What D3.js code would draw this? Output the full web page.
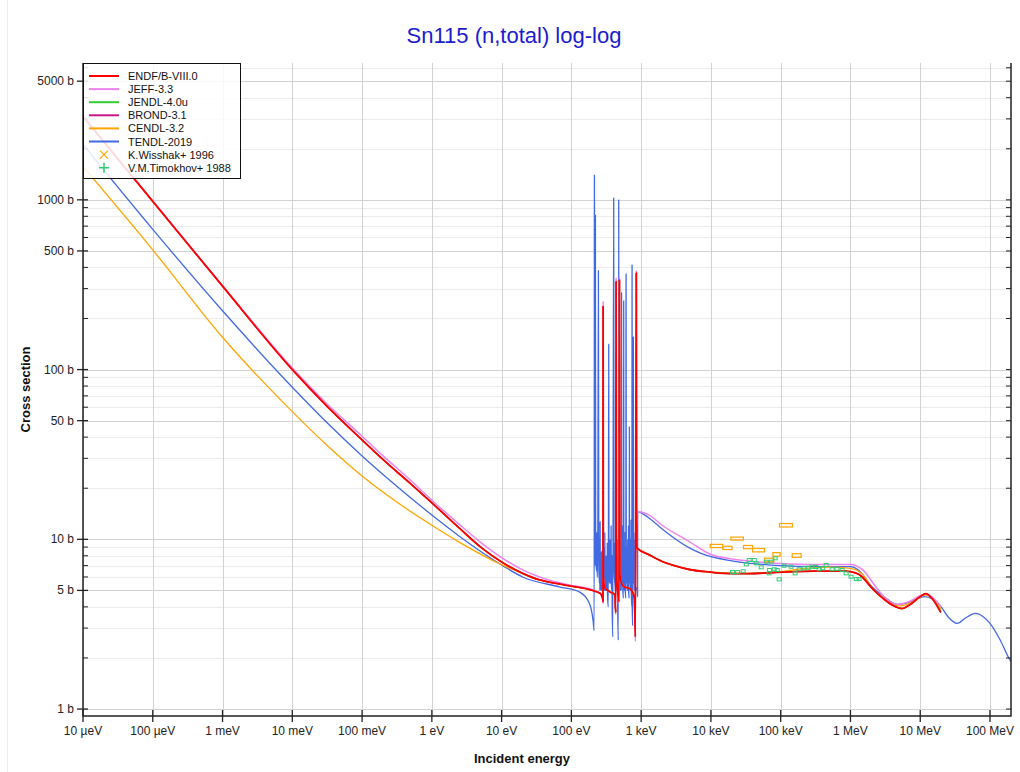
<!DOCTYPE html>
<html>
<head>
<meta charset="utf-8">
<script src="https://cdn.jsdelivr.net/npm/d3@7"></script>
<style>
  body { margin: 0; background: #fff; }
  text { font-family: "Liberation Sans", Arial, sans-serif; }
</style>
</head>
<body>
<div id="chart"></div>
<script>
// ---- data (energy in eV, cross section in barns) ----
const libNames = ['ENDF/B-VIII.0', 'JEFF-3.3', 'JENDL-4.0u', 'BROND-3.1', 'CENDL-3.2', 'TENDL-2019'];
const libColors = ['#ff0000', '#ee82ee', '#32cd32', '#c71585', '#ffa500', '#4169e1'];

const endf = [
  [1e-5, 3100], [1e-4, 980], [1e-3, 310], [1e-2, 100], [0.03, 62], [0.1, 38.5], [0.2, 29.5],
  [0.5, 21.2], [1, 16.4], [2.5, 11.6], [5, 9.0], [10, 7.35], [20, 6.3], [35, 5.76], [60, 5.5],
  [100, 5.3], [200, 5.0], [260, 4.8], [280, 4.5], [284, 4.3], [285, 235], [287, 6.0], [300, 5.2],
  [360, 4.9], [420, 4.7], [432, 3.7], [437, 330], [441, 6.5], [460, 5.0], [482, 4.3], [488, 337],
  [494, 6.2], [550, 5.3], [700, 5.1], [800, 4.5], [826, 2.66], [853, 371], [858, 10], [870, 8.9],
  [1310, 8.1], [2000, 7.4], [3000, 7.0], [4900, 6.64], [1e4, 6.4], [1.5e4, 6.3], [3e4, 6.27],
  [6e4, 6.33], [1.3e5, 6.43], [3e5, 6.5], [8.6e5, 6.5], [1e6, 6.45], [1.33e6, 6.2], [2.06e6, 5.13],
  [2.3e6, 4.9], [3e6, 4.45], [4.2e6, 4.05], [5.5e6, 3.91], [7e6, 4.1], [1e7, 4.6], [1.2e7, 4.79],
  [1.5e7, 4.45], [1.97e7, 3.71]
];

const jeff = [
  [1e-5, 3100], [1e-4, 985], [1e-3, 312], [1e-2, 102], [0.03, 64], [0.1, 40.5], [0.2, 31],
  [0.5, 22.2], [1, 17.0], [2.5, 12.2], [5, 9.6], [10, 7.8], [20, 6.6], [35, 6.0], [60, 5.6],
  [100, 5.35], [200, 5.05], [260, 4.8], [280, 4.5], [284, 4.2], [285, 250], [287, 6.0], [300, 5.2],
  [360, 4.9], [420, 4.7], [432, 3.6], [437, 345], [441, 6.5], [460, 5.0], [482, 4.2], [488, 350],
  [494, 6.2], [550, 5.3], [700, 5.1], [800, 4.5], [826, 2.5], [853, 385], [858, 12], [870, 14.6],
  [1310, 13.9], [2000, 12.1], [4900, 9.7], [1e4, 8.14], [3e4, 7.5], [1e5, 7.2], [3e5, 7.1],
  [1e6, 7.1], [1.5e6, 6.6], [2.3e6, 5.26], [3e6, 4.6], [4.8e6, 4.13], [7e6, 4.3], [1e7, 4.65],
  [1.2e7, 4.75], [1.5e7, 4.55], [2e7, 4.0]
];

// JENDL-4.0u and BROND-3.1 lie under ENDF/B-VIII.0 everywhere in the picture
const jendl = endf;
const brond = endf;

const cendl = [
  [1e-5, 1570], [1e-4, 507], [1e-3, 155], [1e-2, 56.5], [0.03, 36.4], [0.1, 23.6], [0.3, 16.8],
  [1, 12.1], [2.5, 9.6], [10, 7.08], [20, 6.3], [35, 5.76], [60, 5.5], [100, 5.3], [200, 5.0],
  [260, 4.8], [280, 4.5], [284, 4.3], [285, 235], [287, 6.0], [300, 5.2], [360, 4.9], [420, 4.7],
  [432, 3.7], [437, 330], [441, 6.5], [460, 5.0], [482, 4.3], [488, 337], [494, 6.2], [550, 5.3],
  [700, 5.1], [800, 4.5], [826, 2.66], [853, 371], [858, 10], [870, 8.9], [1310, 8.1], [2000, 7.4],
  [4900, 6.64], [1e4, 6.4], [3e4, 6.3], [1e5, 6.45], [2e5, 6.7], [5e5, 6.85], [1e6, 6.75],
  [1.5e6, 6.2], [2.06e6, 5.13], [3e6, 4.5], [5e6, 4.05], [7e6, 4.2], [1.2e7, 4.7], [1.5e7, 4.5],
  [2e7, 3.85]
];

const tendl = [
  [1e-5, 2120], [1e-4, 670], [1e-3, 222], [1e-2, 78.7], [0.03, 49.6], [0.1, 31], [0.28, 21.4],
  [1, 13.9], [2.5, 10.4], [10, 7.06], [20, 6.0], [67, 5.25], [130, 4.9], [181, 4.2], [205, 3.3],
  [212, 2.9], [214, 1400], [217, 9], [220, 7], [221, 813], [223, 8], [230, 6.5], [232, 11], [234, 6],
  [238, 6], [244, 383], [247, 7], [252, 5.5], [254, 9], [256, 5], [258, 12.7], [260, 5.5], [267, 5],
  [269, 8.5], [271, 5], [278, 5.5], [280, 10], [282, 5], [288, 5], [290, 9], [292, 5], [300, 5],
  [302, 11], [304, 5], [312, 5], [314, 8], [316, 5], [325, 5], [327, 9.5], [329, 4.8], [338, 4],
  [343, 141], [346, 6], [356, 5.5], [359, 10], [362, 5.5], [369, 5.5], [371, 12], [373, 5.5],
  [380, 5], [382, 8], [384, 4], [392, 2.66], [404, 1026], [408, 7], [418, 5.5], [420, 9.5],
  [422, 5], [430, 5], [437, 12], [440, 5], [448, 5.5], [450, 10], [452, 5], [455, 5], [470, 2.55],
  [477, 1000], [480, 8], [490, 5.5], [493, 11], [496, 5], [510, 5], [516, 10], [518, 5], [524, 284],
  [528, 6], [540, 5.5], [543, 12], [546, 5], [558, 4.5], [562, 254], [565, 6], [573, 5], [575, 9],
  [577, 5], [588, 5.5], [590, 11], [592, 5], [603, 4.5], [608, 366], [612, 6], [622, 5.5], [625, 9],
  [628, 5], [638, 5], [641, 10], [644, 5], [655, 5.5], [658, 12], [661, 5], [673, 4.5], [678, 46],
  [682, 6], [695, 5.5], [698, 10], [701, 5], [714, 5], [717, 13], [720, 5], [737, 4], [741, 413],
  [745, 4], [755, 3.1], [773, 156], [777, 6], [786, 5.5], [789, 11], [792, 5], [797, 5], [799, 9],
  [801, 5], [820, 5.5], [823, 10], [826, 5], [870, 5.2], [889, 4.6], [891, 12], [895, 14.6],
  [1000, 14.3], [1310, 13.3], [2000, 11.5], [4900, 8.9], [1e4, 7.9], [1e5, 7.0], [3e5, 6.9],
  [1e6, 6.9], [1.3e6, 6.6], [2e6, 5.3], [3e6, 4.6], [4.8e6, 4.13], [7e6, 4.25], [1.15e7, 4.6],
  [1.5e7, 4.45], [2e7, 4.0], [2.5e7, 3.5], [3.4e7, 3.2], [4.5e7, 3.45], [6.2e7, 3.66], [8e7, 3.5],
  [1e8, 3.2], [1.4e8, 2.55], [1.86e8, 2.0], [2e8, 1.9]
];

// K.Wisshak+ 1996: [E low, E high, sigma, d sigma]
const wisshak = [
  [9800, 14800, 9.14, 0.2], [14800, 20000, 8.9, 0.2], [19300, 29200, 10.1, 0.2],
  [29300, 39500, 9.0, 0.2], [39500, 58600, 8.63, 0.2], [58600, 79800, 7.56, 0.18],
  [77300, 98200, 8.15, 0.2], [96000, 147000, 12.1, 0.28], [146000, 196000, 8.03, 0.2]
];

// V.M.Timokhov+ 1988: [E, sigma]
const timokhov = [
  [20400, 6.41], [24100, 6.41], [29000, 6.48], [32100, 7.12], [35400, 7.55], [41800, 7.55],
  [44600, 7.22], [52600, 6.84], [62100, 7.38], [68400, 6.30], [69000, 6.59], [73100, 7.38],
  [80700, 6.66], [83400, 7.73], [89100, 6.59], [95200, 5.81], [112000, 6.99], [141000, 6.90],
  [161000, 6.30], [184000, 6.66], [217000, 6.75], [250000, 6.8], [282000, 6.90], [320000, 6.87],
  [356000, 6.66], [400000, 6.75], [448000, 7.06], [546000, 6.66], [640000, 6.7], [759000, 6.59],
  [867000, 6.30], [1020000, 6.02], [1210000, 5.83], [1330000, 5.83]
];

const xTicks = [1e-5, 1e-4, 1e-3, 1e-2, 1e-1, 1, 10, 100, 1e3, 1e4, 1e5, 1e6, 1e7, 1e8];
const xTickLabels = ['10 µeV', '100 µeV', '1 meV', '10 meV', '100 meV', '1 eV', '10 eV', '100 eV',
  '1 keV', '10 keV', '100 keV', '1 MeV', '10 MeV', '100 MeV'];
const yTicks = [1, 5, 10, 50, 100, 500, 1000, 5000];
const yTickLabels = ['1 b', '5 b', '10 b', '50 b', '100 b', '500 b', '1000 b', '5000 b'];
const yMinor = [2, 3, 4, 6, 7, 8, 9, 20, 30, 40, 60, 70, 80, 90, 200, 300, 400, 600, 700, 800, 900,
  2000, 3000, 4000, 6000];

// ---- layout ----
const width = 1020, height = 772;
const plot = {left: 83, right: 1011, top: 63, bottom: 716};

const svg = d3.select('#chart').append('svg')
    .attr('width', width)
    .attr('height', height);

// faint outer frame of the figure
svg.append('line')
    .attr('x1', 7.5).attr('x2', 7.5).attr('y1', 0).attr('y2', height)
    .attr('stroke', '#ececec');

const x = d3.scaleLog()
    .domain([1e-5, 2e8])
    .range([plot.left, plot.right]);

const y = d3.scaleLog()
    .domain([0.91, 6400])
    .range([plot.bottom, plot.top]);

svg.append('defs').append('clipPath').attr('id', 'clip')
  .append('rect')
    .attr('x', plot.left).attr('y', plot.top)
    .attr('width', plot.right - plot.left).attr('height', plot.bottom - plot.top);

// grid
const grid_g = svg.append('g').attr('class', 'grid');
grid_g.selectAll('.ymin').data(yMinor).enter().append('line')
    .attr('x1', plot.left).attr('x2', plot.right)
    .attr('y1', d => Math.round(y(d)) + 0.5).attr('y2', d => Math.round(y(d)) + 0.5)
    .attr('stroke', '#ececec');
grid_g.selectAll('.ymaj').data(yTicks).enter().append('line')
    .attr('x1', plot.left).attr('x2', plot.right)
    .attr('y1', d => Math.round(y(d)) + 0.5).attr('y2', d => Math.round(y(d)) + 0.5)
    .attr('stroke', '#d2d2d2');
grid_g.selectAll('.xmaj').data(xTicks).enter().append('line')
    .attr('y1', plot.top).attr('y2', plot.bottom)
    .attr('x1', d => Math.round(x(d)) + 0.5).attr('x2', d => Math.round(x(d)) + 0.5)
    .attr('stroke', '#d2d2d2');

// curves
const line = d3.line()
    .x(d => x(d[0]))
    .y(d => y(d[1]))
    .curve(d3.curveMonotoneX);

const curves = [
  {data: tendl, color: libColors[5], w: 1.3},
  {data: cendl, color: libColors[4], w: 1.3},
  {data: brond, color: libColors[3], w: 1.3},
  {data: jendl, color: libColors[2], w: 1.3},
  {data: jeff, color: libColors[1], w: 1.5},
  {data: endf, color: libColors[0], w: 1.8}
];

const curve_g = svg.append('g').attr('clip-path', 'url(#clip)');
curve_g.selectAll('path').data(curves).enter().append('path')
    .attr('d', d => line(d.data))
    .attr('fill', 'none')
    .attr('stroke', d => d.color)
    .attr('stroke-width', d => d.w)
    .attr('stroke-linejoin', 'round');

// experimental points
const exp_g = svg.append('g').attr('clip-path', 'url(#clip)');
exp_g.selectAll('.wis').data(wisshak).enter().append('rect')
    .attr('x', d => x(d[0]))
    .attr('width', d => x(d[1]) - x(d[0]))
    .attr('y', d => y(d[2] + d[3]))
    .attr('height', d => y(d[2] - d[3]) - y(d[2] + d[3]))
    .attr('fill', 'none')
    .attr('stroke', '#ffa500')
    .attr('stroke-width', 1.2);

exp_g.selectAll('.tim').data(timokhov).enter().append('rect')
    .attr('x', d => x(d[0]) - 2)
    .attr('y', d => y(d[1]) - 1.5)
    .attr('width', 4)
    .attr('height', 3)
    .attr('fill', 'none')
    .attr('stroke', '#2ecc71')
    .attr('stroke-width', 1);

// axes
const axis_g = svg.append('g');
axis_g.append('path')
    .attr('d', `M${plot.left},${plot.top}V${plot.bottom}H${plot.right}V${plot.top}`)
    .attr('fill', 'none')
    .attr('stroke', '#222')
    .attr('stroke-width', 1.5);

axis_g.selectAll('.xt').data(xTicks).enter().append('line')
    .attr('x1', d => x(d)).attr('x2', d => x(d))
    .attr('y1', plot.bottom - 6).attr('y2', plot.bottom + 6)
    .attr('stroke', '#222').attr('stroke-width', 1.3);
axis_g.selectAll('.xl').data(xTicks).enter().append('text')
    .attr('x', d => x(d))
    .attr('y', plot.bottom + 19)
    .attr('text-anchor', 'middle')
    .attr('font-size', 12)
    .attr('fill', '#222')
    .text((d, i) => xTickLabels[i]);

axis_g.selectAll('.yt').data(yTicks).enter().append('line')
    .attr('x1', plot.left - 6).attr('x2', plot.left + 5)
    .attr('y1', d => y(d)).attr('y2', d => y(d))
    .attr('stroke', '#222').attr('stroke-width', 1.3);
axis_g.selectAll('.ym').data(yMinor).enter().append('line')
    .attr('x1', plot.left).attr('x2', plot.left + 5)
    .attr('y1', d => y(d)).attr('y2', d => y(d))
    .attr('stroke', '#222');
axis_g.selectAll('.yr').data(yTicks.concat(yMinor)).enter().append('line')
    .attr('x1', plot.right - 5).attr('x2', plot.right)
    .attr('y1', d => y(d)).attr('y2', d => y(d))
    .attr('stroke', '#222');
axis_g.selectAll('.yl').data(yTicks).enter().append('text')
    .attr('x', plot.left - 9)
    .attr('y', d => y(d) + 4)
    .attr('text-anchor', 'end')
    .attr('font-size', 12)
    .attr('fill', '#222')
    .text((d, i) => yTickLabels[i]);

// titles
svg.append('text')
    .attr('x', 514).attr('y', 43)
    .attr('text-anchor', 'middle')
    .attr('font-size', 22)
    .attr('fill', '#1c1ccc')
    .text('Sn115 (n,total) log-log');

svg.append('text')
    .attr('x', 522).attr('y', 763)
    .attr('text-anchor', 'middle')
    .attr('font-size', 13)
    .attr('font-weight', 'bold')
    .attr('fill', '#111')
    .text('Incident energy');

svg.append('text')
    .attr('transform', `translate(30, ${(plot.top + plot.bottom) / 2}) rotate(-90)`)
    .attr('text-anchor', 'middle')
    .attr('font-size', 13)
    .attr('font-weight', 'bold')
    .attr('fill', '#111')
    .text('Cross section');

// legend (slightly see-through, as in the original)
const legend_g = svg.append('g');
legend_g.append('rect')
    .attr('x', plot.left + 0.5).attr('y', plot.top + 0.5)
    .attr('width', 157).attr('height', 115)
    .attr('fill', '#fff')
    .attr('fill-opacity', 0.85)
    .attr('stroke', '#111');

const legendRows = libNames.concat(['K.Wisshak+ 1996', 'V.M.Timokhov+ 1988']);
const rowY = i => 76 + i * 13.1;

legend_g.selectAll('.ll').data(libNames).enter().append('line')
    .attr('x1', 89).attr('x2', 119)
    .attr('y1', (d, i) => rowY(i)).attr('y2', (d, i) => rowY(i))
    .attr('stroke', (d, i) => libColors[i])
    .attr('stroke-width', 2);

legend_g.append('path')
    .attr('d', `M100,${rowY(6) - 4}l8,8M108,${rowY(6) - 4}l-8,8`)
    .attr('stroke', '#ffa500').attr('stroke-width', 1.2);
legend_g.append('path')
    .attr('d', `M99,${rowY(7)}h10M104,${rowY(7) - 5}v10`)
    .attr('stroke', '#2ecc71').attr('stroke-width', 1.5);

legend_g.selectAll('.lt').data(legendRows).enter().append('text')
    .attr('x', 128)
    .attr('y', (d, i) => rowY(i) + 4)
    .attr('font-size', 11)
    .attr('fill', '#111')
    .text(d => d);
</script>
</body>
</html>
